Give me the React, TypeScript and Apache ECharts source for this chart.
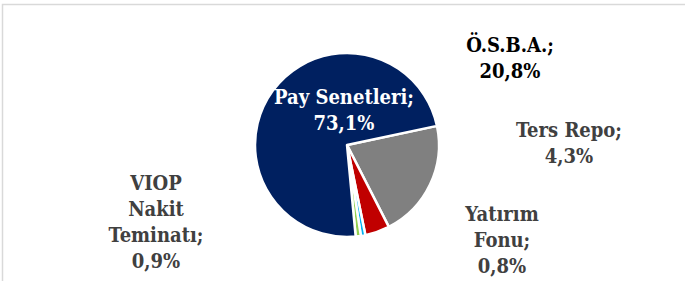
import React, { useEffect, useRef } from "react";
import * as echarts from "echarts";

const categories = ["Ö.S.B.A.", "Ters Repo", "Yatırım Fonu", "VIOP Nakit Teminatı", "Pay Senetleri"];
const labelNames = ["Ö.S.B.A.", "Ters Repo", "Yatırım\nFonu", "VIOP\nNakit\nTeminatı", "Pay Senetleri"];
const values = [20.8, 4.3, 0.8, 0.9, 73.1];
const colors = ["#808080", "#c00000", "#00b0f0", "#92d050", "#002060"];
const labelColors = ["#000000", "#404040", "#404040", "#404040", "#ffffff"];
const labelPos = [
  [510, 58],
  [569, 143],
  [502, 240],
  [156, 222],
  [344, 110],
];

const FONT = "'DejaVu Serif Condensed', 'DejaVu Serif'";

export default function App() {
  const ref = useRef<HTMLDivElement>(null);
  useEffect(() => {
    if (!ref.current) return;
    const chart = echarts.init(ref.current, null, { renderer: "svg" });
    chart.setOption({
      animation: false,
      backgroundColor: "#ffffff",
      textStyle: { fontFamily: FONT },
      graphic: [
        {
          type: "rect",
          shape: { x: 2.5, y: 4.5, width: 720, height: 320 },
          style: { fill: "none", stroke: "#d9d9d9", lineWidth: 1.5 },
          silent: true,
        },
      ],
      series: [
        {
          type: "pie",
          center: [347, 145],
          radius: 92,
          startAngle: 12,
          clockwise: true,
          avoidLabelOverlap: false,
          minAngle: 0,
          itemStyle: { borderColor: "#ffffff", borderWidth: 2.5 },
          labelLine: { show: false },
          label: {
            show: true,
            position: "outside",
            fontFamily: FONT,
            fontWeight: "bold",
            fontSize: 20,
            lineHeight: 26,
            align: "center",
            formatter: (p: any) =>
              labelNames[p.dataIndex] + ";\n" + values[p.dataIndex].toFixed(1).replace(".", ",") + "%",
          },
          labelLayout: (p: any) => ({
            x: labelPos[p.dataIndex][0],
            y: labelPos[p.dataIndex][1],
            align: "center",
            verticalAlign: "middle",
          }),
          data: categories.map((c, i) => ({
            name: c,
            value: values[i],
            itemStyle: { color: colors[i] },
            label: { color: labelColors[i], fontFamily: FONT, fontWeight: "bold", fontSize: 20 },
          })),
        },
      ],
    });
    return () => chart.dispose();
  }, []);
  return (
    <div
      ref={ref}
      style={{ position: "fixed", left: 0, top: 0, width: 685, height: 281 }}
    />
  );
}
